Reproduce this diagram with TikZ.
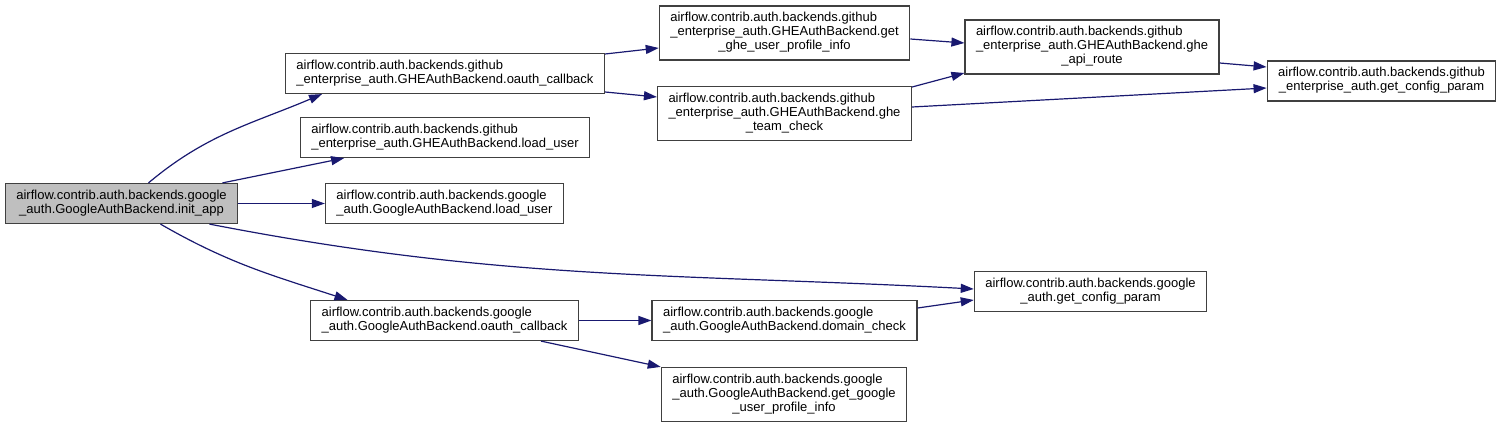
\documentclass[tikz,border=0pt]{standalone}
\usepackage{fontspec}
\setmainfont{Liberation Sans}
\usepackage{xcolor}
\usepackage{tikz}
\usetikzlibrary{arrows.meta}
\definecolor{azul}{HTML}{191970}
\newcommand{\rotulo}[2]{\begin{tabular}{@{}l@{}}#1\\\multicolumn{1}{@{}c@{}}{#2}\end{tabular}}

\begin{document}
\begin{tikzpicture}[
  x=1pt, y=1pt,
  func/.style = {draw=black!75, line width=1.2pt, fill=white, inner xsep=11pt, inner ysep=6pt, font=\fontsize{13}{14}\selectfont},
  raiz/.style = {func, fill=black!25},
  chamada/.style = {-{Triangle[length=13pt, width=9pt]}, draw=azul, line width=1.2pt},
]
\useasboundingbox (0,0) rectangle (1501,428);
\node[raiz] (init) at (121.5,224.5) {\rotulo{airflow.contrib.auth.backends.google}{\_auth.GoogleAuthBackend.init\_app}};
\node[func] (ghecb) at (445,354.5) {\rotulo{airflow.contrib.auth.backends.github}{\_enterprise\_auth.GHEAuthBackend.oauth\_callback}};
\node[func] (ghelu) at (445,290.5) {\rotulo{airflow.contrib.auth.backends.github}{\_enterprise\_auth.GHEAuthBackend.load\_user}};
\node[func] (glu) at (444.5,224.5) {\rotulo{airflow.contrib.auth.backends.google}{\_auth.GoogleAuthBackend.load\_user}};
\node[func] (gcb) at (444.5,107.5) {\rotulo{airflow.contrib.auth.backends.google}{\_auth.GoogleAuthBackend.oauth\_callback}};
\node[func] (gheprof) at (784.5,395) {\rotulo{airflow.contrib.auth.backends.github\\\_enterprise\_auth.GHEAuthBackend.get}{\_ghe\_user\_profile\_info}};
\node[func] (ghetc) at (784.5,314.5) {\rotulo{airflow.contrib.auth.backends.github\\\_enterprise\_auth.GHEAuthBackend.ghe}{\_team\_check}};
\node[func] (gheapi) at (1092,381) {\rotulo{airflow.contrib.auth.backends.github\\\_enterprise\_auth.GHEAuthBackend.ghe}{\_api\_route}};
\node[func] (ghecfg) at (1381.5,347) {\rotulo{airflow.contrib.auth.backends.github}{\_enterprise\_auth.get\_config\_param}};
\node[func] (gcfg) at (1090.5,136.5) {\rotulo{airflow.contrib.auth.backends.google}{\_auth.get\_config\_param}};
\node[func] (gdc) at (784.5,107.5) {\rotulo{airflow.contrib.auth.backends.google}{\_auth.GoogleAuthBackend.domain\_check}};
\node[func] (gprof) at (784,33.5) {\rotulo{airflow.contrib.auth.backends.google\\\_auth.GoogleAuthBackend.get\_google}{\_user\_profile\_info}};
\draw[chamada] ([xshift=27pt]init.north) to[out=40, in=203] ([xshift=-123pt]ghecb.south);
\draw[chamada] (init) -- (ghelu); \draw[chamada] (init) -- (glu);
\draw[chamada] ([xshift=88pt]init.south) to[out=-11, in=177] ([yshift=2.5pt]gcfg.west);
\draw[chamada] ([xshift=39pt]init.south) to[out=-30, in=162] ([xshift=-97pt]gcb.north);
\draw[chamada] ([yshift=19.5pt]ghecb.east) -- ([yshift=-15pt]gheprof.west);
\draw[chamada] ([yshift=-18.5pt]ghecb.east) -- ([yshift=16.5pt]ghetc.west);
\draw[chamada] ([yshift=-6pt]gheprof.east) -- ([yshift=4pt]gheapi.west);
\draw[chamada] ([yshift=26.5pt]ghetc.east) -- ([yshift=-26pt]gheapi.west);
\draw[chamada] ([yshift=6.5pt]ghetc.east) -- ([yshift=-7pt]ghecfg.west);
\draw[chamada] ([yshift=-16pt]gheapi.east) -- ([yshift=14pt]ghecfg.west);
\draw[chamada] (gcb) -- (gdc);
\draw[chamada] ([xshift=96.5pt]gcb.south) -- (gprof.north west);
\draw[chamada] ([yshift=12.5pt]gdc.east) -- ([yshift=-8.5pt]gcfg.west);
\end{tikzpicture}
\end{document}
